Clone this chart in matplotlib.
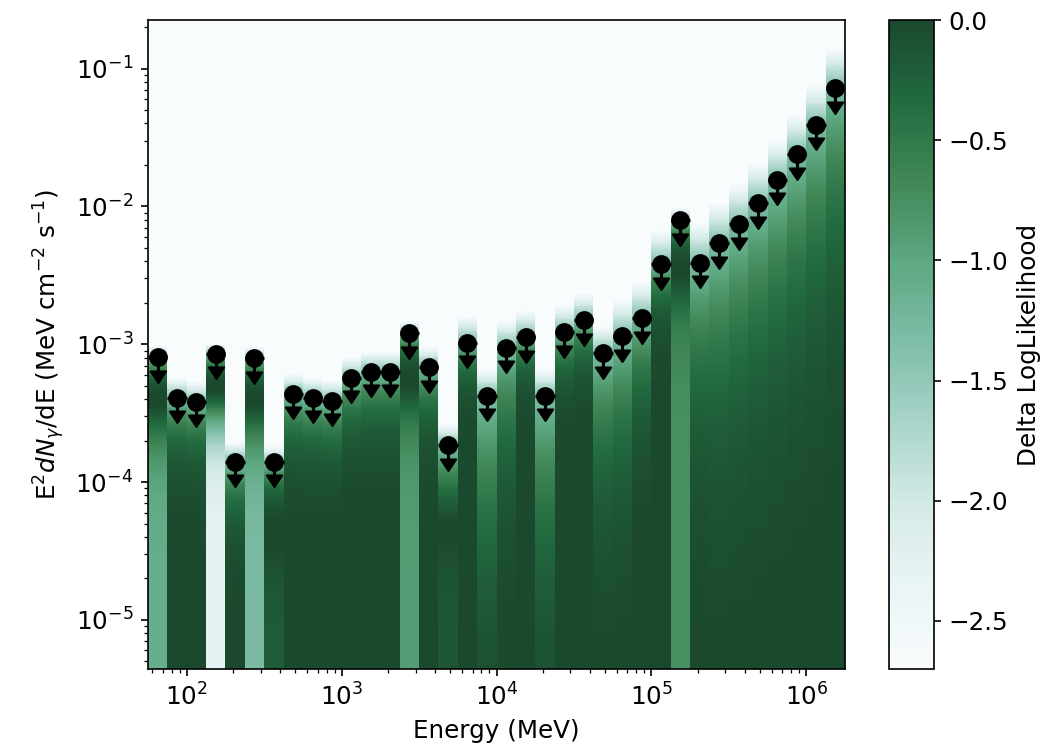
import numpy as np
import matplotlib
matplotlib.use("Agg")
import matplotlib.pyplot as plt
from matplotlib.colors import ListedColormap
from matplotlib.path import Path

# energy bins: 8 per decade from ~56 MeV to ~1.8 TeV
e_edges = np.logspace(1.75, 6.25, 37)

# 95% upper limits, E^2 dN/dE (MeV cm-2 s-1)
e2dnde_ul = [8.05e-4, 4.07e-4, 3.8e-4, 8.5e-4, 1.4e-4, 7.9e-4, 1.4e-4, 4.35e-4,
             4.07e-4, 3.9e-4, 5.7e-4, 6.3e-4, 6.3e-4, 1.2e-3, 6.8e-4, 1.85e-4,
             1.02e-3, 4.2e-4, 9.4e-4, 1.12e-3, 4.2e-4, 1.22e-3, 1.49e-3, 8.6e-4,
             1.14e-3, 1.54e-3, 3.8e-3, 7.9e-3, 3.9e-3, 5.4e-3, 7.4e-3, 1.05e-2,
             1.55e-2, 2.38e-2, 3.9e-2, 7.2e-2]

# flux where the likelihood peaks (0 -> peak at zero flux)
e2dnde_peak = [3.9e-4, 0, 0, 4.8e-4, 0, 3.9e-4, 4.0e-5, 0,
               0, 0, 0, 0, 0, 5.4e-4, 0, 5.0e-5,
               0, 0, 0, 0, 0, 0, 0, 0,
               0, 0, 0, 3.4e-3, 0, 0, 0, 0,
               0, 0, 0, 0]

# delta log-likelihood at zero flux
dlnl_zero = [-1.1, 0, 0, -2.3, -0.1, -1.3, -0.2, 0,
             0, 0, 0, 0, 0, -0.9, 0, -0.15,
             0, 0, 0, 0, 0, 0, 0, 0,
             0, 0, 0, -0.75, 0, 0, 0, 0,
             0, 0, 0, 0]

# profile shape between peak and UL
index_below = [2, 2, 2, 2, 2, 2, 2, 2,
               2, 2, 2, 2, 2, 2, 2, 1.0,
               3, 0.6, 0.9, 3, 0.6, 2.5, 2.5, 0.8,
               0.8, 1.2, 2.5, 2, 0.7, 0.6, 0.6, 0.6,
               0.6, 0.6, 0.6, 0.6]

# profile shape above the UL (1 = few counts, 2 = gaussian)
index_above = [2, 2, 2, 2, 2, 2, 2, 2,
               2, 2, 2, 2, 2, 2, 2, 1.5,
               1.5, 1.5, 1.5, 1.5, 1.5, 1.5, 1.5, 1.5,
               1.1, 1.1, 1.2, 2, 1, 1, 1, 1,
               1, 1, 1, 1]

ylim = (4.4e-6, 0.225)
llhcut = -2.70

plt.rcParams['font.size'] = 11.8

ul = np.array(e2dnde_ul)
peak = np.array(e2dnde_peak)
floor = np.array(dlnl_zero)
p_lo = np.array(index_below)
p_hi = np.array(index_above)

# likelihood scan on a log flux grid
f_edges = np.logspace(np.log10(ylim[0]), np.log10(ylim[1]), 701)
fc = np.sqrt(f_edges[1:] * f_edges[:-1])[:, None]

x = np.clip(fc - peak, 0, None) / (ul - peak)
hi = -1.35 * np.where(x < 1, x ** p_lo, x ** p_hi)
r = np.clip(fc / np.where(peak > 0, peak, 1.0), 0, 1)
lo = floor * (1 - r ** 2) ** 2
lnl = np.where(fc >= peak, hi, lo)

e_ctr = np.sqrt(e_edges[1:] * e_edges[:-1])
delo = e_ctr - e_edges[:-1]
dehi = e_edges[1:] - e_ctr

# BuGn, a bit washed out like the screenshot
base = plt.get_cmap('BuGn')(np.linspace(0, 1, 256))[:, :3]
lum = base @ np.array([0.3, 0.59, 0.11])
rgb = base * 0.72 + lum[:, None] * 0.28
rgb = rgb + (1 - rgb) * 0.06
cmap = ListedColormap(np.clip(rgb, 0, 1))

fig = plt.figure(figsize=(1048 / 150, 752 / 150), dpi=150)
ax = fig.add_axes([148 / 1048, 83 / 752, 697 / 1048, 649 / 752])
cax = fig.add_axes([889 / 1048, 83 / 752, 45 / 1048, 649 / 752])

im = ax.pcolormesh(e_edges, f_edges, lnl, vmin=llhcut, vmax=0,
                   cmap=cmap, linewidth=0, rasterized=True)
cb = fig.colorbar(im, cax=cax)
cb.set_label('Delta LogLikelihood')

eb = ax.errorbar(e_ctr, ul, xerr=(delo, dehi), yerr=ul * 0.2, uplims=True,
                 marker='o', linestyle='None', color='k', markersize=7.5,
                 markeredgewidth=1.5)

# solid arrow heads (base at the end of the bar)
arrow = Path([[-1, 0], [0, -1.5], [1, 0], [-1, 0]],
             [Path.MOVETO, Path.LINETO, Path.LINETO, Path.CLOSEPOLY])
for cap in eb[1]:
    cap.set_marker(arrow)
    cap.set_markersize(11)
    cap.set_markerfacecolor('k')
    cap.set_markeredgewidth(1)

ax.set_xscale('log')
ax.set_yscale('log')
ax.set_xlim(e_edges[0], e_edges[-1])
ax.set_ylim(*ylim)
ax.set_xlabel('Energy (MeV)')
ax.set_ylabel(r'E$^2$$dN_{\gamma}$/dE (MeV cm$^{-2}$ s$^{-1}$)')

fig.savefig('out.png', dpi=150)
